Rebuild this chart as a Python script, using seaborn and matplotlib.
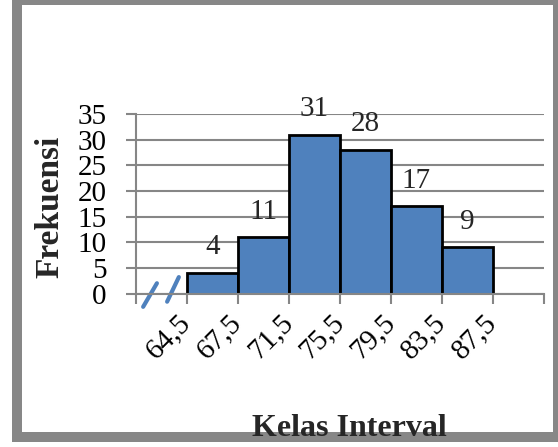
import numpy as np
import matplotlib
matplotlib.use("Agg")
import matplotlib.pyplot as plt
import seaborn as sns
from matplotlib.patches import Rectangle

# class boundaries shown on the x axis, and frequency of each class
boundaries = ["64,5", "67,5", "71,5", "75,5", "79,5", "83,5", "87,5"]
frekuensi = [4, 11, 31, 28, 17, 9]

sns.set_style("white")
plt.rcParams["font.family"] = ["Liberation Serif", "DejaVu Serif"]

fig = plt.figure(figsize=(5.58, 4.47), dpi=100)
ax = fig.add_axes([136 / 558, 1 - 293.5 / 447, 408 / 558, 179.5 / 447])

# slot 0 is the axis break, bars sit in slots 1..6, slot 7 is empty
x_mid = np.arange(len(frekuensi)) + 1.5
sns.barplot(x=x_mid, y=frekuensi, native_scale=True, width=1, color="#4F81BD",
            saturation=1, edgecolor="black", linewidth=2, ax=ax)
ax.bar_label(ax.containers[0], padding=9, fontsize=21)

grid_c = "#868686"
ax.set_xlim(0, 8)
ax.set_ylim(0, 35)
ax.set_yticks(range(0, 36, 5))
ax.set_xticks(range(0, 9))
ax.set_xticklabels([""] + boundaries + [""])
ax.yaxis.grid(True, color=grid_c, linewidth=1.5)
ax.set_axisbelow(True)
for s in ["top", "right"]:
    ax.spines[s].set_visible(False)
for s in ["left", "bottom"]:
    ax.spines[s].set_color(grid_c)
    ax.spines[s].set_linewidth(1.5)
ax.tick_params(axis="both", colors=grid_c, length=7, width=1.5, labelcolor="black",
               labelsize=21)
ax.tick_params(axis="y", pad=14, direction="out", left=True)
ax.tick_params(axis="x", pad=11.5, direction="out", bottom=True)
for lab in ax.get_xticklabels():
    lab.set_rotation(45)
    lab.set_ha("right")
    lab.set_va("center")
    lab.set_rotation_mode("anchor")

# axis break marks
brk = "#4F81BD"
ax.plot([0.14, 0.41], [-2.6, 2.0], color=brk, lw=3, clip_on=False)
ax.plot([0.61, 0.84], [-1.6, 3.2], color=brk, lw=3, clip_on=False)

ax.set_xlabel("")
ax.set_ylabel("")
fig.text(50 / 558, 1 - 207 / 447, "Frekuensi", rotation=90, fontsize=24,
         fontweight="bold", ha="center", va="center")
fig.text(349 / 558, 1 - 428 / 447, "Kelas Interval", fontsize=23,
         fontweight="bold", ha="center", va="center")

# chart area frame
fig.patches.append(Rectangle((17, 10), 541, 437, transform=None, fill=False,
                             edgecolor="#878787", linewidth=7.2))

fig.savefig("out.png", dpi=100)
